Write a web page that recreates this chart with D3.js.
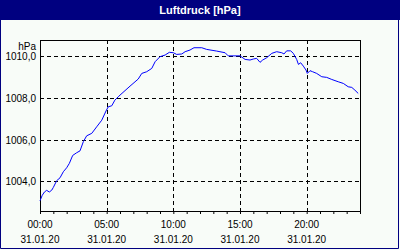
<!DOCTYPE html>
<html>
<head>
<meta charset="utf-8">
<script src="https://cdn.jsdelivr.net/npm/d3@7"></script>
<style>
  html, body { margin: 0; padding: 0; background: #f8fcf8; overflow: hidden; }
  svg { display: block; }
  text { font-family: "Liberation Sans", Arial, sans-serif; }
</style>
</head>
<body>
<svg id="chart" width="400" height="250"></svg>
<script>
// time of reading (31.01.20) and air pressure in hPa
const times = ["00:00","00:10","00:20","00:30","00:42","00:53","01:00","01:15","01:30","01:45",
  "02:00","02:12","02:27","02:45","03:00","03:15","03:30","03:53","04:15","04:38",
  "04:57","05:07","05:23","05:37","05:52","06:00","06:45","07:22","07:38","08:00",
  "08:23","08:38","09:00","09:23","09:42","10:00","10:15","10:38","10:53","11:15",
  "11:33","12:08","12:30","13:15","13:53","14:07","15:00","15:23","15:45","16:00",
  "16:15","16:30","16:42","17:00","17:23","17:45","18:08","18:18","18:30","18:48",
  "19:00","19:15","19:23","19:33","19:45","19:57","20:03","20:15","20:27","20:45",
  "21:08","21:30","21:53","22:22","22:45","23:07","23:23","23:37","23:52"];
const pressure = [1003.07,1003.33,1003.49,1003.57,1003.49,1003.58,1003.71,1004.03,1004.17,1004.46,
  1004.65,1004.86,1005.24,1005.37,1005.46,1005.90,1006.18,1006.30,1006.61,1006.93,
  1007.37,1007.57,1007.62,1007.89,1008.05,1008.13,1008.56,1008.90,1009.17,1009.25,
  1009.41,1009.73,1009.97,1010.05,1010.18,1010.16,1010.08,1010.10,1010.21,1010.29,
  1010.40,1010.40,1010.32,1010.24,1010.16,1010.01,1010.01,1009.84,1009.81,1009.86,
  1009.89,1009.70,1009.81,1009.92,1010.13,1010.21,1010.16,1010.10,1010.25,1010.25,
  1010.13,1009.84,1009.60,1009.68,1009.52,1009.33,1009.17,1009.30,1009.25,1009.17,
  1009.01,1008.98,1008.88,1008.77,1008.69,1008.53,1008.50,1008.37,1008.21];
const yTicks = [1004, 1006, 1008, 1010];
const xLabelHours = [0, 5, 10, 15, 20];
const dayLabel = "31.01.20";
const title = "Luftdruck [hPa]";
const unit = "hPa";

const parse = d3.timeParse("%Y-%m-%d %H:%M");
const data = times.map((t, i) => ({ time: parse("2020-01-31 " + t), value: pressure[i] }));

const W = 400, H = 250;
const margin = { top: 40, right: 40, bottom: 39, left: 40 };
const innerWidth = W - margin.left - margin.right;
const innerHeight = H - margin.top - margin.bottom;

const svg = d3.select("#chart");

// navy frame + title bar
svg.append("path")
    .attr("d", `M0.5,0 V${H - 1.5} H${W - 1.5} V0`)
    .attr("fill", "none")
    .attr("stroke", "#000080");
svg.append("rect")
    .attr("x", 0).attr("y", 0)
    .attr("width", W).attr("height", 20)
    .attr("fill", "#000080");

const day0 = parse("2020-01-31 00:00");
const day1 = parse("2020-02-01 00:00");
const x = d3.scaleTime()
    .domain([day0, day1])
    .range([margin.left, W - margin.right]);

const y = d3.scaleLinear()
    .domain([1002.58, 1010.77])
    .range([H - margin.bottom, margin.top]);

const hourOf = h => d3.timeHour.offset(day0, h);

// dashed grid
svg.selectAll(".hgrid")
    .data(yTicks)
    .enter().append("line")
    .attr("class", "hgrid")
    .attr("x1", margin.left).attr("x2", W - margin.right)
    .attr("y1", d => Math.round(y(d)) + 0.5)
    .attr("y2", d => Math.round(y(d)) + 0.5)
    .attr("stroke", "#000")
    .attr("stroke-dasharray", "4,3");

svg.selectAll(".vgrid")
    .data(xLabelHours.filter(h => h > 0))
    .enter().append("line")
    .attr("class", "vgrid")
    .attr("y1", margin.top).attr("y2", H - margin.bottom)
    .attr("x1", d => Math.round(x(hourOf(d))) + 0.5)
    .attr("x2", d => Math.round(x(hourOf(d))) + 0.5)
    .attr("stroke", "#000")
    .attr("stroke-dasharray", "4,3");

// x axis with hourly ticks
const xAxis = d3.axisBottom(x)
    .ticks(d3.timeHour.every(1))
    .tickSize(3)
    .tickFormat("");
svg.append("g")
    .attr("transform", `translate(0,${H - margin.bottom})`)
    .call(xAxis)
    .call(a => a.select(".domain").remove())
    .call(a => a.selectAll("line").attr("stroke", "#000"));

// plot border
svg.append("rect")
    .attr("x", margin.left + 0.5).attr("y", margin.top + 0.5)
    .attr("width", innerWidth).attr("height", innerHeight)
    .attr("fill", "none")
    .attr("stroke", "#000");

const line = d3.line()
    .x(d => x(d.time))
    .y(d => y(d.value));

svg.append("path")
    .datum(data)
    .attr("d", line)
    .attr("fill", "none")
    .attr("stroke", "#0000ff")
    .attr("stroke-width", 1);

// texts
svg.append("text")
    .attr("x", W / 2).attr("y", 13.5)
    .attr("text-anchor", "middle")
    .attr("fill", "#fff")
    .attr("font-weight", "bold")
    .attr("font-size", "11px")
    .text(title);

svg.selectAll(".xlab")
    .data(xLabelHours)
    .enter().append("text")
    .attr("class", "xlab")
    .attr("x", d => x(hourOf(d)))
    .attr("y", H - margin.bottom + 16.5)
    .attr("text-anchor", "middle")
    .attr("font-size", "10px")
    .attr("fill", "#000")
    .text(d => d3.timeFormat("%H:%M")(hourOf(d)));

svg.selectAll(".xday")
    .data(xLabelHours)
    .enter().append("text")
    .attr("class", "xday")
    .attr("x", d => x(hourOf(d)))
    .attr("y", H - margin.bottom + 31.5)
    .attr("text-anchor", "middle")
    .attr("font-size", "10px")
    .attr("fill", "#000")
    .text(dayLabel);

svg.selectAll(".ylab")
    .data(yTicks)
    .enter().append("text")
    .attr("class", "ylab")
    .attr("x", margin.left - 4)
    .attr("y", d => Math.round(y(d)) + 4)
    .attr("text-anchor", "end")
    .attr("font-size", "10px")
    .attr("fill", "#000")
    .text(d => d3.format(".1f")(d).replace(".", ","));

svg.append("text")
    .attr("x", margin.left - 4).attr("y", margin.top + 10)
    .attr("text-anchor", "end")
    .attr("font-size", "10px")
    .attr("fill", "#000")
    .text(unit);
</script>
</body>
</html>
